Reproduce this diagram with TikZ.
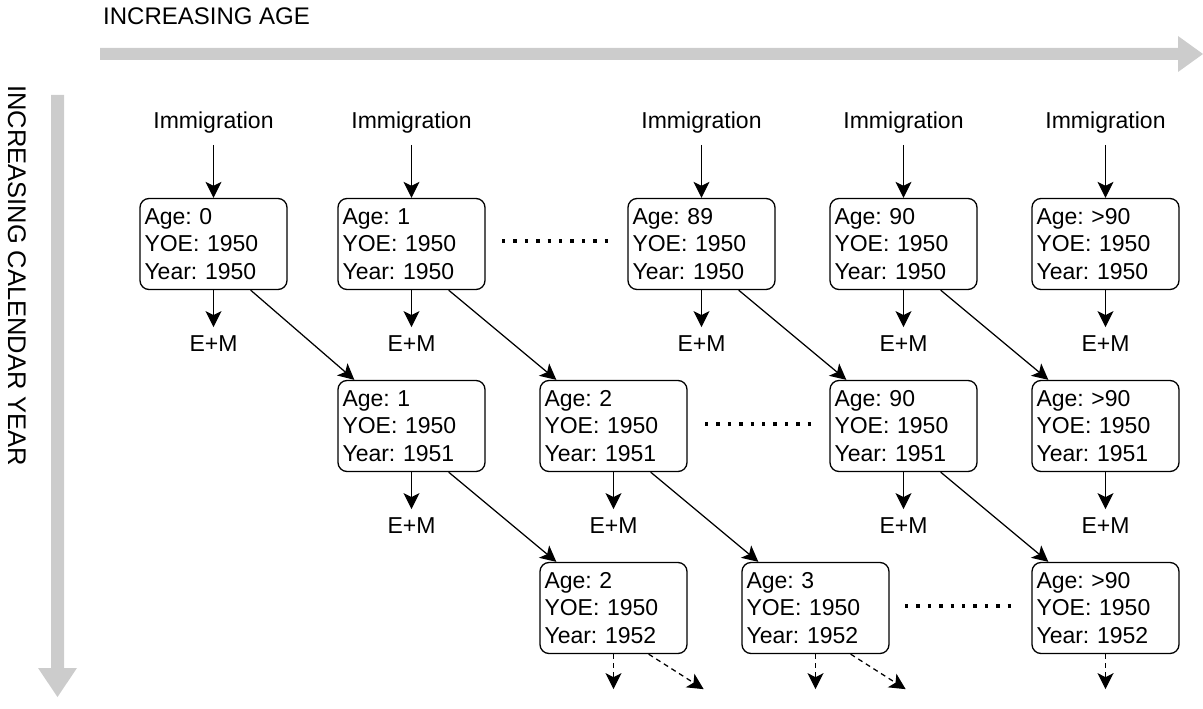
\documentclass[tikz,border=0pt]{standalone}
\usepackage{fontspec}
\setmainfont{Liberation Sans}
\usetikzlibrary{arrows.meta,calc}
\begin{document}
\frenchspacing
\begin{tikzpicture}[x=1pt,y=-1pt,
  txt/.style={font=\fontsize{23}{27.5}\selectfont},
  cell/.style={draw, line width=1.3pt, rounded corners=9pt, minimum width=147pt, minimum height=91pt,
    text width=138pt, inner xsep=4.5pt, inner ysep=0pt, align=left, txt},
  lab/.style={txt, inner sep=2pt, anchor=base},
  arr/.style={line width=1.25pt, -{Stealth[length=16pt,width=16pt,inset=4pt]}},
  darr/.style={arr, dash pattern=on 5pt off 4pt},
  dots/.style={line width=3.4pt, dash pattern=on 3.4pt off 8pt},
  bigarrow/.style={fill=black!20, draw=none}
]
\useasboundingbox (0,0) rectangle (1203,709);

% big axis arrows
\fill[bigarrow] (100,48) -- (1178,48) -- (1178,36) -- (1203,54) -- (1178,72) -- (1178,60) -- (100,60) -- cycle;
\fill[bigarrow] (51,95) -- (64,95) -- (64,668) -- (77,668) -- (57.5,697) -- (38,668) -- (51,668) -- cycle;
\node[font=\fontsize{24}{28}\selectfont, anchor=base west, inner sep=0pt] (xlab) at (103,25) {INCREASING AGE};
\node[font=\fontsize{25.5}{30}\selectfont, anchor=west, rotate=-90, inner sep=0pt] (ylab) at (17,85) {INCREASING CALENDAR YEAR};

% row 1
\node[cell] (a0) at (213.5,244) {Age: 0\\YOE: 1950\\Year: 1950};
\node[cell] (a1) at (411.5,244) {Age: 1\\YOE: 1950\\Year: 1950};
\node[cell] (a89) at (701.5,244) {Age: 89\\YOE: 1950\\Year: 1950};
\node[cell] (a90) at (903.5,244) {Age: 90\\YOE: 1950\\Year: 1950};
\node[cell] (ag) at (1105.5,244) {Age: >90\\YOE: 1950\\Year: 1950};
% row 2
\node[cell] (b1) at (411.5,426) {Age: 1\\YOE: 1950\\Year: 1951};
\node[cell] (b2) at (613.5,426) {Age: 2\\YOE: 1950\\Year: 1951};
\node[cell] (b90) at (903.5,426) {Age: 90\\YOE: 1950\\Year: 1951};
\node[cell] (bg) at (1105.5,426) {Age: >90\\YOE: 1950\\Year: 1951};
% row 3
\node[cell] (c2) at (613.5,608) {Age: 2\\YOE: 1950\\Year: 1952};
\node[cell] (c3) at (815.5,608) {Age: 3\\YOE: 1950\\Year: 1952};
\node[cell] (cg) at (1105.5,608) {Age: >90\\YOE: 1950\\Year: 1952};

% immigration
\foreach \n in {a0,a1,a89,a90,ag}{
  \node[lab] (im-\n) at ($(\n.north)+(0,-69)$) {Immigration};
  \draw[arr] ([yshift=-9pt]im-\n.south) -- (\n.north);
}
% E+M
\foreach \n in {a0,a1,a89,a90,ag,b1,b2,b90,bg}{
  \node[lab] (em-\n) at ($(\n.south)+(0,61)$) {E+M};
  \draw[arr, shorten >=6pt] (\n.south) -- (em-\n.north);
}

% diagonal arrows
\foreach \s/\t in {a0/b1,a1/b2,a89/b90,a90/bg,b1/c2,b2/c3,b90/cg}{
  \draw[arr] ($(\s.south east)+(-37,0)$) -- ($(\t.north west)+(17,0)$);
}

% dotted gaps
\coordinate (d1a) at (502,241); \coordinate (d1b) at (608,241);
\coordinate (d2a) at (705,424); \coordinate (d2b) at (811,424);
\coordinate (d3a) at (905,606); \coordinate (d3b) at (1011,606);
\draw[dots] (d1a) -- (d1b);
\draw[dots] (d2a) -- (d2b);
\draw[dots] (d3a) -- (d3b);

% dashed continuation arrows
\foreach \n in {c2,c3,cg}{
  \coordinate (down-\n) at ($(\n.south)+(0,35)$);
  \draw[darr] (\n.south) -- (down-\n);
}
\foreach \n in {c2,c3}{
  \coordinate (diag-\n) at ($(\n.south east)+(16,35)$);
  \draw[darr] ($(\n.south east)+(-39,0)$) -- (diag-\n);
}
\end{tikzpicture}
\end{document}
